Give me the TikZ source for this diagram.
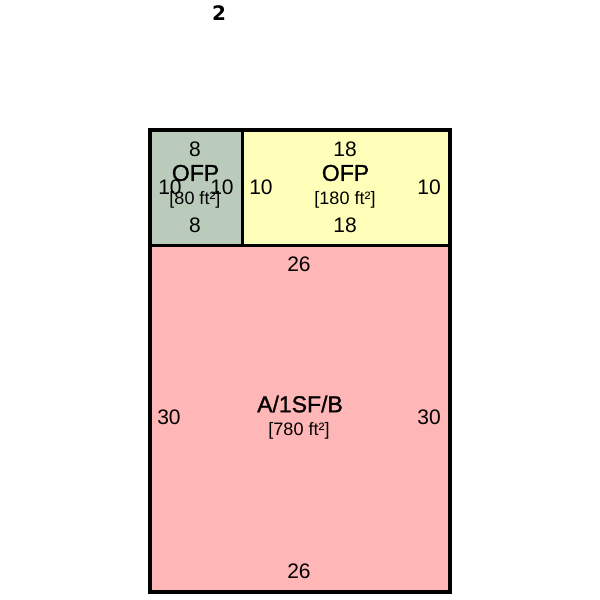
\documentclass[tikz,border=0pt]{standalone}
\usepackage{fontspec}
\setmainfont{Liberation Sans}
\newfontfamily\namefont[FakeBold=1.2]{Liberation Sans}
\newfontfamily\pagefont{DejaVu Sans Bold}
\definecolor{pinkroom}{HTML}{FFB6B6}
\definecolor{yellowroom}{HTML}{FFFFB9}
\definecolor{greenroom}{HTML}{BBCBBB}
\tikzset{
  room/.style={draw=black,line width=4pt},
  wall/.style={draw=black,line width=2.6pt},
  dim/.style={inner sep=0pt,font=\fontsize{21}{21}\selectfont,text=black},
  roomname/.style={inner sep=0pt,font=\namefont\fontsize{23}{23}\selectfont,text=black},
  roomarea/.style={inner sep=0pt,font=\fontsize{18}{18}\selectfont,text=black},
  pagelabel/.style={inner sep=0pt,font=\pagefont\fontsize{20}{20}\selectfont,text=black}
}
\begin{document}
\begin{tikzpicture}[x=1pt,y=-1pt]
\useasboundingbox (0,0) rectangle (600,600);
\fill[white] (0,0) rectangle (600,600);
\node[pagelabel] (page) at (219,13) {2};
\fill[greenroom] (151,130) rectangle (242,245);
\fill[yellowroom] (242,130) rectangle (449,245);
\fill[pinkroom] (151,245) rectangle (449,591);
\draw[wall] (242.3,130) -- (242.3,245);
\draw[wall] (151,245.5) -- (449,245.5);
\draw[room] (150.3,130.3) rectangle (450,591.6);
\node[dim] (gt) at (195,149.5) {8};
\node[dim] (gb) at (195,225) {8};
\node[dim] (gl) at (170,187.5) {10};
\node[dim] (gr) at (222,187.5) {10};
\node[roomname] (gn) at (195.5,173) {OFP};
\node[roomarea] (ga) at (195,199.5) {[80 ft²]};
\node[dim] (yt) at (345,149.5) {18};
\node[dim] (yb) at (345,225) {18};
\node[dim] (yl) at (261,187.5) {10};
\node[dim] (yr) at (429,187.5) {10};
\node[roomname] (yn) at (345.5,173) {OFP};
\node[roomarea] (ya) at (345,199.5) {[180 ft²]};
\node[dim] (pt) at (299,264.5) {26};
\node[dim] (pb) at (299,571.5) {26};
\node[dim] (pl) at (169,417.5) {30};
\node[dim] (pr) at (429,417.5) {30};
\node[roomname] (pn) at (300,404) {A/1SF/B};
\node[roomarea] (pa) at (299,430.5) {[780 ft²]};
\end{tikzpicture}
\end{document}
